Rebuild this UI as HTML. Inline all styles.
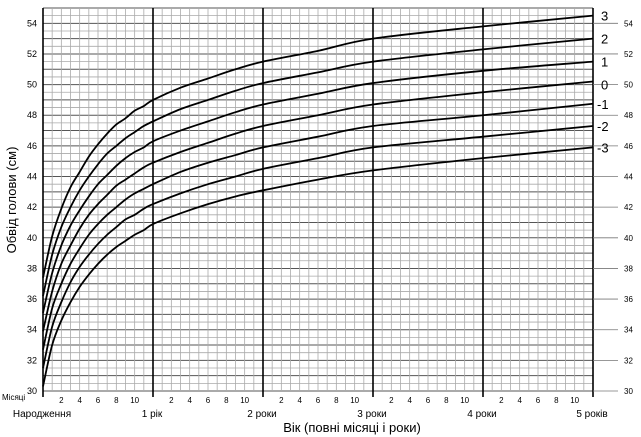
<!DOCTYPE html>
<html><head><meta charset="utf-8"><style>
html,body{margin:0;padding:0;background:#fff;}
svg{display:block;font-family:"Liberation Sans",sans-serif;}
</style></head><body>
<svg id="chart" width="641" height="437" viewBox="0 0 641 437" xmlns="http://www.w3.org/2000/svg">
<g id="grid"></g>
<g id="curves"></g>
<g id="labels"></g>
<text transform="translate(16,200) rotate(-90)" text-anchor="middle" font-size="13">Обвід голови (см)</text>
<text x="352" y="432" text-anchor="middle" font-size="13">Вік (повні місяці і роки)</text>
<text x="2" y="400" font-size="8">Місяці</text>
</svg>
<script>
const ages = [0,1,2,3,4,5,6,7,8,9,10,11,12,15,18,21,24,30,36,48,60];
const zNeg3 = [30.3,33.0,34.6,35.8,36.8,37.6,38.3,38.9,39.4,39.8,40.2,40.5,40.9,41.6,42.2,42.7,43.1,43.8,44.4,45.2,45.9];
const zNeg2 = [31.5,34.2,35.8,37.1,38.1,38.9,39.6,40.2,40.7,41.2,41.5,41.9,42.2,42.9,43.5,44.0,44.5,45.2,45.9,46.6,47.3];
const zNeg1 = [32.7,35.4,37.0,38.3,39.3,40.2,40.9,41.5,42.0,42.5,42.9,43.2,43.5,44.3,44.9,45.4,45.9,46.6,47.3,48.0,48.75];
const z0 = [33.9,36.5,38.3,39.5,40.6,41.5,42.2,42.8,43.4,43.8,44.2,44.6,44.9,45.6,46.2,46.8,47.3,48.0,48.7,49.5,50.2];
const zPos1 = [35.1,37.7,39.5,40.8,41.8,42.7,43.5,44.1,44.7,45.2,45.6,45.9,46.3,47.0,47.6,48.2,48.7,49.4,50.1,50.9,51.5];
const zPos2 = [36.2,38.9,40.7,42.0,43.1,44.0,44.8,45.5,46.0,46.5,46.9,47.3,47.6,48.4,49.0,49.6,50.1,50.8,51.5,52.3,53.0];
const zPos3 = [37.4,40.1,41.9,43.3,44.3,45.3,46.1,46.8,47.4,47.8,48.3,48.6,49.0,49.8,50.4,51.0,51.5,52.2,53.0,53.8,54.5];
const seriesNames = ["-3","-2","-1","0","1","2","3"];
const yTicks = [30,32,34,36,38,40,42,44,46,48,50,52,54];
const yearLabels = ["Народження","1 рік","2 роки","3 роки","4 роки","5 років"];
const monthTicks = [2,4,6,8,10];

const X0=43, X1=593, Y0=391, Y1=8, VMIN=30, VMAX=55, MMAX=60;
const xs = m => X0 + (X1-X0)*m/MMAX;
const ys = v => Y0 - (Y0-Y1)*(v-VMIN)/(VMAX-VMIN);
const NS="http://www.w3.org/2000/svg";
function mk(tag, attrs, parent){const e=document.createElementNS(NS,tag);for(const k in attrs)e.setAttribute(k,attrs[k]);parent.appendChild(e);return e;}
const grid=document.getElementById('grid'), curves=document.getElementById('curves'), labels=document.getElementById('labels');

// horizontal lines
for(let v=VMIN; v<=VMAX+0.001; v+=0.5){
  const major = Math.abs(v-Math.round(v))<0.01;
  const l=mk('line',{x1:X0,x2:X1,y1:ys(v),y2:ys(v),stroke:major?'#555':'#aaa','stroke-width':major?1:0.8},grid);
  
  
}
// vertical month lines
for(let m=0;m<=MMAX;m++){
  const yr = m%12===0;
  const l=mk('line',{x1:xs(m),x2:xs(m),y1:Y1,y2:yr?Y0+6:Y0,stroke:yr?'#000':'#aaa','stroke-width':yr?1.6:0.8},grid);
  
  
}
// right extension lines and labels
yTicks.forEach(v=>{
  const l=mk('line',{x1:X1,x2:618,y1:ys(v),y2:ys(v),stroke:'#777','stroke-width':0.8},grid);
  
  
  const t=mk('text',{x:624,y:ys(v)+3,'font-size':8},labels); t.textContent=v;
  
  
  const t2=mk('text',{x:37,y:ys(v)+3,'font-size':9,'text-anchor':'end'},labels); t2.textContent=v;
  
  
});
// month tick labels
for(let y=0;y<5;y++){
  monthTicks.forEach(m=>{
    const t=mk('text',{x:xs(y*12+m),y:403,'font-size':8,'text-anchor':'middle'},labels); t.textContent=m;
    
    
  });
}
yearLabels.forEach((s,i)=>{
  const x = i===0 ? 42 : xs(i*12)-1;
  const t=mk('text',{x:x,y:417,'font-size':10,'text-anchor':'middle'},labels); t.textContent=s;
  
  
});
// curves
const all=[zNeg3,zNeg2,zNeg1,z0,zPos1,zPos2,zPos3];
all.forEach((vals,si)=>{
  const P=ages.map((a,i)=>[xs(a),ys(vals[i])]);
  let d='M'+P[0][0].toFixed(2)+','+P[0][1].toFixed(2);
  for(let i=0;i<P.length-1;i++){
    const p0=P[i-1]||P[i], p1=P[i], p2=P[i+1], p3=P[i+2]||P[i+1];
    const c1=[p1[0]+(p2[0]-p0[0])/6, p1[1]+(p2[1]-p0[1])/6];
    const c2=[p2[0]-(p3[0]-p1[0])/6, p2[1]-(p3[1]-p1[1])/6];
    d+=`C${c1[0].toFixed(2)},${c1[1].toFixed(2)} ${c2[0].toFixed(2)},${c2[1].toFixed(2)} ${p2[0].toFixed(2)},${p2[1].toFixed(2)}`;
  }
  const p=mk('path',{d:d,fill:'none',stroke:'#000','stroke-width':1.8},curves);
  
  
  const last=vals[vals.length-1];
  const t=mk('text',{x:seriesNames[si].startsWith('-')?597:601,y:ys(last)+5+(si===3?3:0),'font-size':13},labels); t.textContent=seriesNames[si];
  
  
});
</script>
</body></html>
